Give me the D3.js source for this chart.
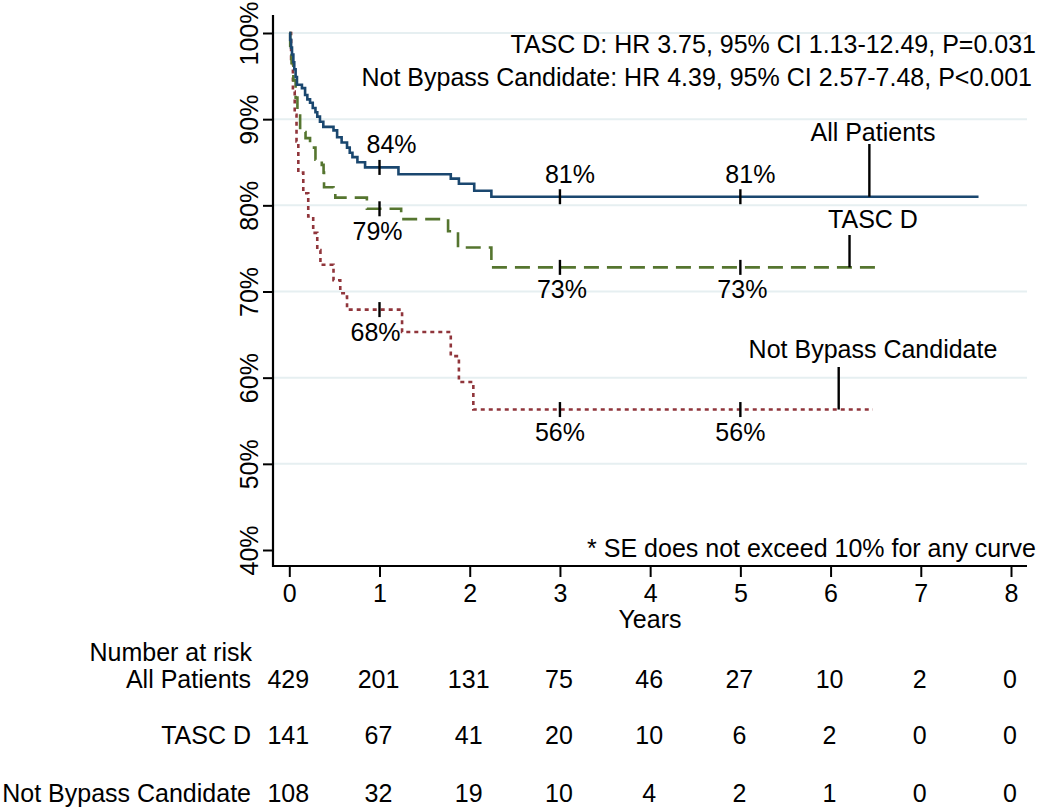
<!DOCTYPE html>
<html>
<head>
<meta charset="utf-8">
<script src="https://cdn.jsdelivr.net/npm/d3@7"></script>
<style>
  html, body { margin: 0; padding: 0; background: #fff; }
  svg { display: block; }
  text { font-family: "Liberation Sans", Arial, Helvetica, sans-serif; fill: #000; }
</style>
</head>
<body>
<svg id="chart" width="1050" height="809"></svg>
<script>
// ---------- DATA ----------
const yearTicks = [0, 1, 2, 3, 4, 5, 6, 7, 8];
const pctTicks = [40, 50, 60, 70, 80, 90, 100];
const gridPcts = [50, 60, 70, 80, 90, 100];

// Kaplan-Meier steps: [years, survival %]
const allPatients = [
  [0,100],[0.01,99.2],[0.02,98.3],[0.03,97.5],[0.045,96.6],[0.055,95.8],[0.07,94.9],
  [0.085,94.0],[0.14,93.6],[0.175,92.8],[0.2,92.3],[0.23,91.9],[0.26,91.3],[0.29,90.8],
  [0.31,90.3],[0.34,89.7],[0.377,89.1],[0.49,88.7],[0.53,87.9],[0.58,87.3],[0.64,86.7],
  [0.67,86.1],[0.70,85.6],[0.755,85.0],[0.84,84.4],[1.21,83.6],[1.79,83.1],[1.88,82.5],
  [2.05,81.7],[2.24,81.0],[7.64,81.0]
];
const tascD = [
  [0,100],[0.01,98.5],[0.025,96.5],[0.045,94.5],[0.07,92.5],[0.09,90.8],[0.12,88.5],
  [0.18,87.8],[0.23,86.7],[0.29,85.3],[0.36,84.7],[0.38,83.8],[0.385,82.1],[0.49,81.8],
  [0.51,80.9],[0.86,79.6],[1.24,78.4],[1.76,77.0],[1.87,75.1],[2.24,72.8],[6.52,72.8]
];
const notBypass = [
  [0,100],[0.02,97],[0.04,93.2],[0.06,90.5],[0.08,87.4],[0.10,83.8],[0.155,81.4],
  [0.21,78.7],[0.265,76.8],[0.31,74.8],[0.345,73.1],[0.49,71.3],[0.565,69.8],[0.62,69.4],
  [0.64,67.9],[1.25,65.3],[1.79,62.5],[1.88,59.5],[2.04,56.3],[6.47,56.3]
];

const landmarkYears = [1, 3, 5];
const allLabels = ["84%", "81%", "81%"];
const tascLabels = ["79%", "73%", "73%"];
const nbLabels = ["68%", "56%", "56%"];

const seriesNames = ["All Patients", "TASC D", "Not Bypass Candidate"];
const pointerYears = [6.43, 6.21, 6.09];

const riskAll = [429, 201, 131, 75, 46, 27, 10, 2, 0];
const riskTasc = [141, 67, 41, 20, 10, 6, 2, 0, 0];
const riskNB = [108, 32, 19, 10, 4, 2, 1, 0, 0];

const hrLines = [
  "TASC D: HR 3.75, 95% CI 1.13-12.49, P=0.031",
  "Not Bypass Candidate: HR 4.39, 95% CI 2.57-7.48, P<0.001"
];
const seNote = "* SE does not exceed 10% for any curve";

// ---------- LAYOUT ----------
const svg = d3.select("#chart");
const FS = 25;
const axisLeft = 273, axisRight = 1027, axisBottom = 566, axisTop = 15;
const x = d3.scaleLinear().domain([0, 8]).range([289.3, 1011]);
const y = d3.scaleLinear().domain([40, 100]).range([550, 33]);

const colors = { all: "#1a476f", tasc: "#55752f", nb: "#90353b" };

// gridlines
svg.append("g").selectAll("line").data(gridPcts).join("line")
  .attr("x1", axisLeft).attr("x2", axisRight)
  .attr("y1", d => y(d)).attr("y2", d => y(d))
  .attr("stroke", "#e6eff1").attr("stroke-width", 2);

// y axis
const yAxis = svg.append("g").attr("transform", `translate(${axisLeft},0)`)
  .call(d3.axisLeft(y).tickValues(pctTicks).tickSize(10).tickFormat(d => d + "%"));
yAxis.select(".domain").remove();
yAxis.selectAll(".tick line").attr("stroke", "#000").attr("stroke-width", 2);
yAxis.selectAll(".tick text")
  .attr("font-size", FS).attr("fill", "#000")
  .attr("text-anchor", "middle").attr("dy", null).attr("x", null)
  .attr("transform", "translate(-15,0) rotate(-90)");
svg.append("line").attr("x1", axisLeft).attr("x2", axisLeft)
  .attr("y1", axisTop).attr("y2", axisBottom + 1)
  .attr("stroke", "#000").attr("stroke-width", 2.2);

// x axis
const xAxis = svg.append("g").attr("transform", `translate(0,${axisBottom})`)
  .call(d3.axisBottom(x).tickValues(yearTicks).tickSize(11).tickFormat(d3.format("d")));
xAxis.select(".domain").remove();
xAxis.selectAll(".tick line").attr("stroke", "#000").attr("stroke-width", 2);
xAxis.selectAll(".tick text").attr("font-size", FS).attr("fill", "#000")
  .attr("dy", null).attr("y", 36);
svg.append("line").attr("x1", axisLeft - 1).attr("x2", axisRight)
  .attr("y1", axisBottom).attr("y2", axisBottom)
  .attr("stroke", "#000").attr("stroke-width", 2.2);

svg.append("text").attr("x", (axisLeft + axisRight) / 2).attr("y", 628)
  .attr("text-anchor", "middle").attr("font-size", FS).text("Years");

// curves
const line = d3.line().x(d => x(d[0])).y(d => y(d[1])).curve(d3.curveStepAfter);
const series = [
  { data: allPatients, color: colors.all, dash: null, labels: allLabels, above: true },
  { data: tascD, color: colors.tasc, dash: "15,8", labels: tascLabels, above: false },
  { data: notBypass, color: colors.nb, dash: "4,4", labels: nbLabels, above: false }
];
function valueAt(data, t) {
  let v = data[0][1];
  for (const d of data) { if (d[0] <= t) v = d[1]; }
  return v;
}
// draw in order: red, green, blue on top
[2, 1, 0].forEach(i => {
  const s = series[i];
  svg.append("path").datum(s.data).attr("d", line)
    .attr("fill", "none").attr("stroke", s.color).attr("stroke-width", 2.6)
    .attr("stroke-dasharray", s.dash);
});

// landmark ticks & labels
const labelDx = [[12, 10, 10], [-2, 2, 2], [-4, 0, 0]];
series.forEach((s, i) => {
  landmarkYears.forEach((t, j) => {
    const yy = y(valueAt(s.data, t));
    svg.append("line").attr("x1", x(t)).attr("x2", x(t))
      .attr("y1", yy - 7.5).attr("y2", yy + 7.5)
      .attr("stroke", "#000").attr("stroke-width", 2.4);
    svg.append("text").attr("x", x(t) + labelDx[i][j])
      .attr("y", s.above ? yy - 14 : yy + 31)
      .attr("text-anchor", "middle").attr("font-size", FS).text(s.labels[j]);
  });
});

// curve name labels with pointer lines
const nameBaselines = [141, 228, 358];
const pointerTops = [144, 235, 367];
series.forEach((s, i) => {
  const px = x(pointerYears[i]);
  const yy = y(valueAt(s.data, pointerYears[i]));
  svg.append("line").attr("x1", px).attr("x2", px)
    .attr("y1", pointerTops[i]).attr("y2", yy)
    .attr("stroke", "#000").attr("stroke-width", 2.4);
  svg.append("text").attr("x", 873).attr("y", nameBaselines[i])
    .attr("text-anchor", "middle").attr("font-size", FS).text(seriesNames[i]);
});

// HR text
const hrRight = [1036, 1032];
hrLines.forEach((t, i) => {
  svg.append("text").attr("x", hrRight[i]).attr("y", 53 + i * 33)
    .attr("text-anchor", "end").attr("font-size", FS).text(t);
});
svg.append("text").attr("x", 1036).attr("y", 557)
  .attr("text-anchor", "end").attr("font-size", FS).text(seNote);

// Number at risk table
svg.append("text").attr("x", 252).attr("y", 661)
  .attr("text-anchor", "end").attr("font-size", FS).text("Number at risk");
const rows = [
  { name: "All Patients", vals: riskAll, yb: 688 },
  { name: "TASC D", vals: riskTasc, yb: 744 },
  { name: "Not Bypass Candidate", vals: riskNB, yb: 802 }
];
rows.forEach(r => {
  svg.append("text").attr("x", 251).attr("y", r.yb)
    .attr("text-anchor", "end").attr("font-size", FS).text(r.name);
  svg.append("g").selectAll("text").data(r.vals).join("text")
    .attr("x", (d, i) => x(yearTicks[i]) - 1).attr("y", r.yb)
    .attr("text-anchor", "middle").attr("font-size", FS).text(d => d);
});
</script>
</body>
</html>
